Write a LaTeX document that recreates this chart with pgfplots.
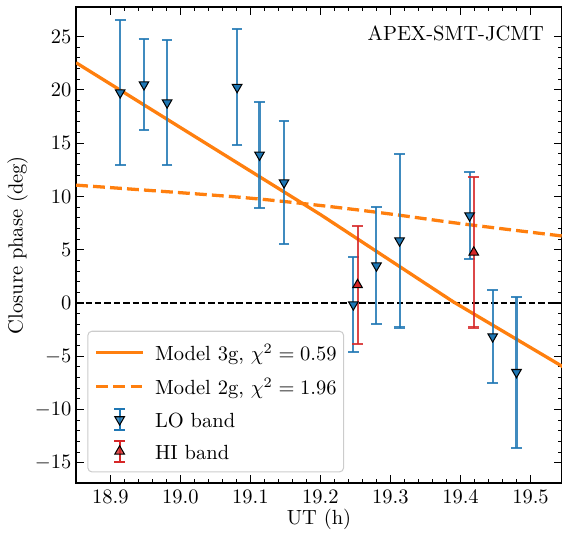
\documentclass[border=0pt]{standalone}
\usepackage{pgfplots}
\pgfplotsset{compat=1.18}
\definecolor{tabblue}{HTML}{1F77B4}
\definecolor{taborange}{HTML}{FF7F0E}
\definecolor{tabred}{HTML}{D62728}

% legend picture for a point with error bar, #1 = colour
\pgfplotsset{
  errleg/.style={
    legend image code/.code={
      \draw[#1, line width=1pt] (11.3pt,-4.1pt) -- (11.3pt,6.3pt)
        (8.7pt,-4.1pt) -- (13.9pt,-4.1pt) (8.7pt,6.3pt) -- (13.9pt,6.3pt);
      \draw[##1] plot coordinates {(11.3pt,1.2pt)};
      \path (0pt,-4.6pt) (22.6pt,6.8pt);
    }
  }
}

% LO band closure phases
\pgfplotstableread{
x       y      err
18.914  19.75  6.80
18.948  20.50  4.30
18.981  18.80  5.85
19.081  20.25  5.45
19.113  13.90  4.95
19.148  11.30  5.80
19.247  -0.15  4.45
19.280   3.50  5.50
19.313   5.85  8.15
19.413   8.20  4.10
19.446  -3.15  4.35
19.480  -6.50  7.10
}\lodata

% HI band closure phases
\pgfplotstableread{
x       y      err
19.253   1.70  5.55
19.419   4.75  7.05
}\hidata

\begin{document}
\begin{tikzpicture}
\begin{axis}[
  scale only axis,
  width=237pt, height=232.2pt,
  xmin=18.851, xmax=19.545,
  ymin=-16.9, ymax=27.78,
  xtick={18.9,19.0,19.1,19.2,19.3,19.4,19.5},
  ytick={-15,-10,-5,0,5,10,15,20,25},
  minor x tick num=4, minor y tick num=4,
  tick align=inside,
  major tick length=3.8pt, minor tick length=2pt,
  every tick/.style={black, line width=0.5pt},
  axis line style={line width=0.7pt},
  xticklabel style={/pgf/number format/.cd, fixed, fixed zerofill, precision=1},
  yticklabel style={xshift=1.2pt},
  xlabel={UT (h)},
  ylabel={Closure phase (deg)},
  xlabel style={at={(axis description cs:0.5,0)}, anchor=base, yshift=-20.3pt},
  ylabel style={at={(axis description cs:0,0.5)}, anchor=center, yshift=28.6pt},
  legend style={
    at={(axis description cs:0,0)}, anchor=south west,
    xshift=5.5pt, yshift=5.2pt,
    draw=black!20, line width=0.5pt, rounded corners=2pt,
    fill=white, fill opacity=0.8, text opacity=1,
    inner xsep=3.4pt, inner ysep=4pt,
    row sep=3.6pt, column sep=5.2pt,
    nodes={inner xsep=0pt, inner ysep=0pt, text height=7.6pt, text depth=2pt},
    cells={anchor=west},
  },
  legend image code/.code={\draw[#1] (0pt,1.3pt) -- (22.6pt,1.3pt);
    \path (0pt,-4.6pt) (0pt,6.8pt);},
]

\addplot[black, line width=0.6pt, dash pattern=on 3.2pt off 1.4pt, forget plot]
  coordinates {(18.851,0) (19.545,0)};

\addplot[taborange, line width=1.6pt]
  coordinates {(18.851,22.55) (19.08,13.2) (19.2,8.3) (19.39,0.1) (19.546,-5.97)};
\addlegendentry{Model 3g, $\chi^2 = 0.59$}

\addplot[taborange, line width=1.6pt, dash pattern=on 5.8pt off 2.5pt, smooth]
  coordinates {(18.851,11.06) (19.08,9.95) (19.2,9.15) (19.3,8.35) (19.4,7.45) (19.546,6.28)};
\addlegendentry{Model 2g, $\chi^2 = 1.96$}

\addplot[only marks, mark=triangle*, mark size=2.7pt,
  mark options={rotate=180, draw=black, fill=tabblue, line width=0.5pt},
  errleg=tabblue,
  error bars/.cd, y dir=both, y explicit,
  error bar style={tabblue, line width=1pt, opacity=0.85},
  error mark options={tabblue, line width=1pt, mark size=2.6pt, rotate=90, opacity=0.85}]
  table[x=x, y=y, y error=err] {\lodata};
\addlegendentry{LO band}

\addplot[only marks, mark=triangle*, mark size=2.7pt,
  mark options={draw=black, fill=tabred, line width=0.5pt},
  errleg=tabred,
  error bars/.cd, y dir=both, y explicit,
  error bar style={tabred, line width=1pt, opacity=0.85},
  error mark options={tabred, line width=1pt, mark size=2.6pt, rotate=90, opacity=0.85}]
  table[x=x, y=y, y error=err] {\hidata};
\addlegendentry{HI band}

\node[anchor=north east, inner sep=0pt] at (rel axis cs:1,1)
  [xshift=-8.6pt, yshift=-8.8pt] {APEX-SMT-JCMT};
\end{axis}
\pgfresetboundingbox
\path ([xshift=-37.1pt, yshift=-25.2pt]current axis.south west)
  rectangle ([yshift=3.4pt]current axis.north east);
\end{tikzpicture}
\end{document}
